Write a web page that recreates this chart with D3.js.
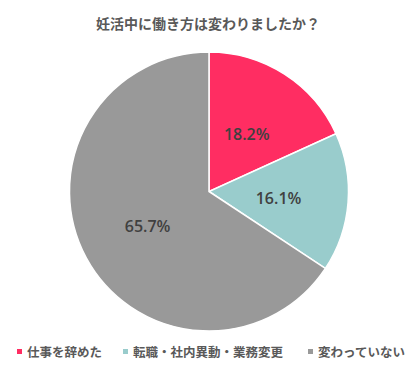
<!DOCTYPE html>
<html><head><meta charset="utf-8">
<script src="https://cdn.jsdelivr.net/npm/d3@7"></script>
<style>body{margin:0;background:#fff}svg{display:block}</style>
</head><body>
<script>
const categories = ["仕事を辞めた", "転職・社内異動・業務変更", "変わっていない"];
const values = [18.2, 16.1, 65.7];
const colors = ["#ff2d62", "#99cccc", "#999999"];
const title = "妊活中に働き方は変わりましたか？";

const W = 419, H = 374, cx = 209, cy = 191.5, R = 139.5;
const svg = d3.select("body").append("svg").attr("width", W).attr("height", H);
const font = "'Noto Sans CJK JP','Noto Sans',sans-serif";

svg.append("text").attr("x", 208).attr("y", 29).attr("text-anchor", "middle")
  .attr("font-family", font).attr("font-weight", "bold").attr("font-size", 14)
  .attr("fill", "#595959").text(title);

const pie = d3.pie().sort(null).value(d => d)(values);
const arc = d3.arc().innerRadius(0).outerRadius(R);
const labelArc = d3.arc().innerRadius(R * 0.5).outerRadius(R * 0.5);
const g = svg.append("g").attr("transform", `translate(${cx},${cy})`);
g.selectAll("path").data(pie).join("path")
  .attr("d", arc).attr("fill", (d, i) => colors[i])
  .attr("stroke", "#fff").attr("stroke-width", 1.5);
g.selectAll("text").data(pie).join("text")
  .attr("transform", d => `translate(${labelArc.centroid(d)})`)
  .attr("text-anchor", "middle").attr("dy", "0.45em")
  .attr("font-family", "'Open Sans',sans-serif").attr("font-weight", 600).attr("font-size", 16)
  .attr("fill", "#404040").text(d => d.data.toFixed(1) + "%");

const legendX = [17, 123, 308];
const lg = svg.append("g");
categories.forEach((c, i) => {
  lg.append("rect").attr("x", legendX[i]).attr("y", 349).attr("width", 5).attr("height", 5).attr("fill", colors[i]);
  lg.append("text").attr("x", legendX[i] + 10).attr("y", 356.5)
    .attr("font-family", font).attr("font-weight", "bold").attr("font-size", 12.5)
    .attr("fill", "#595959").text(c);
});
</script>
</body></html>
